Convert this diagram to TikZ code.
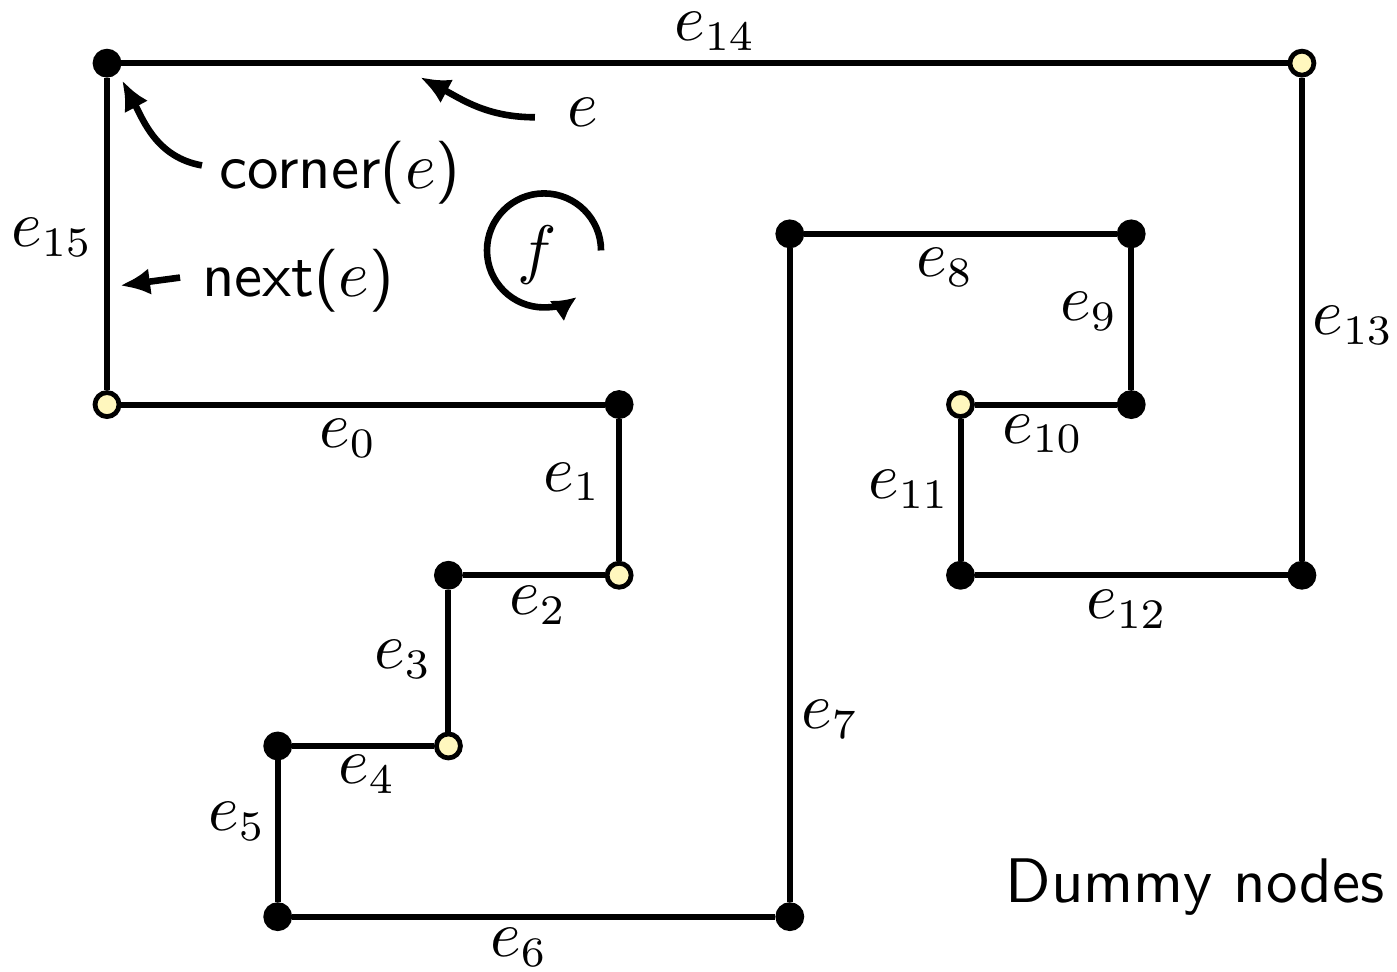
\documentclass[tikz,border=0pt]{standalone}
\usepackage{fontspec}
\usetikzlibrary{arrows.meta}
\definecolor{dummyfill}{RGB}{255,247,190}
\tikzset{
  vtx/.style={circle,draw=black,line width=0.8pt,inner sep=0pt,minimum size=4.0pt,fill=black},
  dum/.style={vtx,fill=dummyfill},
  edge/.style={line width=1pt},
  lbl/.style={inner sep=0pt,font=\fontsize{10.5}{12}\selectfont},
  ann/.style={line width=1.1pt,-{Latex[length=5pt,width=4.4pt]}},
}
\begin{document}
\begin{tikzpicture}
\useasboundingbox (-0.627,-0.323) rectangle (7.557,5.37);
% vertices
\node[dum] (v0) at (0,3) {};
\node[vtx] (v1) at (3,3) {};
\node[dum] (v2) at (3,2) {};
\node[vtx] (v3) at (2,2) {};
\node[dum] (v4) at (2,1) {};
\node[vtx] (v5) at (1,1) {};
\node[vtx] (v6) at (1,0) {};
\node[vtx] (v7) at (4,0) {};
\node[vtx] (v8) at (4,4) {};
\node[vtx] (v9) at (6,4) {};
\node[vtx] (v10) at (6,3) {};
\node[dum] (v11) at (5,3) {};
\node[vtx] (v12) at (5,2) {};
\node[vtx] (v13) at (7,2) {};
\node[dum] (v14) at (7,5) {};
\node[vtx] (v15) at (0,5) {};
% edges
\draw[edge] (v0) -- (v1) -- (v2) -- (v3) -- (v4) -- (v5) -- (v6) -- (v7) -- (v8) -- (v9) -- (v10) -- (v11) -- (v12) -- (v13) -- (v14) -- (v15) -- (v0);
% edge labels
\node[lbl] (l0) at (1.412,2.800) {$e_{0}$};
\node[lbl] (l1) at (2.724,2.547) {$e_{1}$};
\node[lbl] (l2) at (2.525,1.825) {$e_{2}$};
\node[lbl] (l3) at (1.734,1.508) {$e_{3}$};
\node[lbl] (l4) at (1.523,0.833) {$e_{4}$};
\node[lbl] (l5) at (0.761,0.558) {$e_{5}$};
\node[lbl] (l6) at (2.414,-0.182) {$e_{6}$};
\node[lbl] (l7) at (4.236,1.156) {$e_{7}$};
\node[lbl] (l8) at (4.909,3.803) {$e_{8}$};
\node[lbl] (l9) at (5.753,3.545) {$e_{9}$};
\node[lbl] (l10) at (5.483,2.828) {$e_{10}$};
\node[lbl] (l11) at (4.698,2.505) {$e_{11}$};
\node[lbl] (l12) at (5.975,1.802) {$e_{12}$};
\node[lbl] (l13) at (7.300,3.462) {$e_{13}$};
\node[lbl] (l14) at (3.562,5.185) {$e_{14}$};
\node[lbl] (l15) at (-0.322,3.979) {$e_{15}$};
% annotations
\node[lbl] (le) at (2.788,4.712) {$e$};
\node[lbl] (lc) at (1.365,4.360) {\textsf{corner(}$e$\textsf{)}};
\node[lbl] (ln) at (1.119,3.726) {\textsf{next(}$e$\textsf{)}};
\node[lbl] (lf) at (2.519,3.873) {$f$};
\node[lbl] (ld) at (6.374,0.176) {\textsf{Dummy nodes}};
\coordinate (se) at (2.507,4.683);
\coordinate (te) at (1.834,4.918);
\coordinate (sc) at (0.556,4.401);
\coordinate (tc) at (0.088,4.900);
\coordinate (sn) at (0.428,3.744);
\coordinate (tn) at (0.076,3.697);
\draw[ann] (se) to[out=180,in=-28] (te);
\draw[ann] (sc) to[out=170,in=-62] (tc);
\draw[ann] (sn) -- (tn);
\coordinate (fc) at (2.560,3.903);
\draw[line width=1.1pt,-{Latex[length=4pt,width=4.2pt]}] ([shift={(0:0.334)}]fc) arc[start angle=0,end angle=305,radius=0.334];
\end{tikzpicture}
\end{document}
